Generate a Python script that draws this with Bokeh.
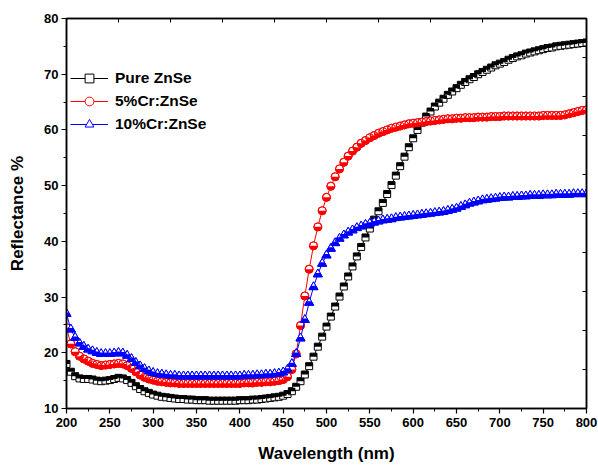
import math
from bokeh.plotting import figure
from bokeh.models import (Range1d, LinearAxis, FixedTicker, Legend, LegendItem,
                          ColumnDataSource, CustomJSTickFormatter)
from bokeh.transform import dodge
from bokeh.embed import file_html
from bokeh.resources import INLINE

# ---------------- data ----------------
wavelength = list(range(200, 801, 5))

pure_znse = [
    18.0, 16.6, 15.8, 15.4, 15.3, 15.3, 15.2, 15.0, 14.9, 15.0,
    15.1, 15.3, 15.5, 15.4, 15.1, 14.6, 14.0, 13.5, 13.1, 12.8,
    12.5, 12.3, 12.1, 12.0, 11.9, 11.8, 11.7, 11.7, 11.6, 11.6,
    11.5, 11.5, 11.5, 11.4, 11.4, 11.4, 11.4, 11.4, 11.4, 11.4,
    11.5, 11.5, 11.5, 11.6, 11.6, 11.7, 11.8, 11.9, 12.0, 12.1,
    12.3, 12.6, 13.1, 13.9, 14.9, 16.1, 17.6, 19.3, 21.1, 22.9,
    24.7, 26.5, 28.3, 30.1, 31.9, 33.7, 35.5, 37.3, 39.0, 40.7,
    42.3, 43.9, 45.4, 46.9, 48.5, 50.1, 51.8, 53.5, 55.2, 56.9,
    58.5, 60.0, 61.3, 62.4, 63.3, 64.2, 64.9, 65.6, 66.3, 66.9,
    67.5, 68.1, 68.6, 69.1, 69.5, 70.0, 70.4, 70.8, 71.2, 71.6,
    71.9, 72.2, 72.6, 72.9, 73.2, 73.4, 73.7, 73.9, 74.1, 74.3,
    74.5, 74.7, 74.8, 75.0, 75.1, 75.2, 75.3, 75.4, 75.5, 75.6,
    75.7,
]

cr5_znse = [
    24.5, 21.6, 20.2, 19.4, 18.9, 18.5, 18.1, 17.9, 17.7, 17.8,
    17.9, 18.0, 18.1, 18.0, 17.7, 17.2, 16.6, 16.0, 15.6, 15.3,
    15.1, 14.9, 14.8, 14.7, 14.6, 14.6, 14.5, 14.5, 14.5, 14.5,
    14.5, 14.5, 14.5, 14.5, 14.5, 14.5, 14.5, 14.5, 14.5, 14.5,
    14.5, 14.6, 14.6, 14.6, 14.7, 14.7, 14.8, 14.8, 14.9, 15.0,
    15.2, 15.7, 17.0, 19.8, 24.9, 30.2, 35.0, 39.2, 42.6, 45.5,
    47.9, 49.9, 51.6, 53.0, 54.2, 55.3, 56.2, 56.9, 57.6, 58.1,
    58.6, 59.0, 59.4, 59.7, 60.0, 60.3, 60.5, 60.7, 60.9, 61.1,
    61.2, 61.3, 61.4, 61.5, 61.6, 61.7, 61.8, 61.9, 62.0, 62.0,
    62.1, 62.1, 62.2, 62.2, 62.2, 62.3, 62.3, 62.3, 62.4, 62.4,
    62.4, 62.5, 62.5, 62.5, 62.5, 62.5, 62.5, 62.5, 62.5, 62.5,
    62.6, 62.6, 62.6, 62.6, 62.6, 62.7, 62.9, 63.1, 63.3, 63.5,
    63.6,
]

cr10_znse = [
    27.0, 24.2, 22.7, 21.7, 21.1, 20.6, 20.3, 20.0, 19.8, 19.8,
    19.8, 19.9, 20.0, 19.9, 19.5, 18.9, 18.2, 17.6, 17.1, 16.7,
    16.4, 16.2, 16.1, 16.0, 15.9, 15.9, 15.8, 15.8, 15.8, 15.8,
    15.8, 15.8, 15.8, 15.8, 15.8, 15.8, 15.8, 15.8, 15.8, 15.8,
    15.8, 15.9, 15.9, 15.9, 16.0, 16.0, 16.1, 16.1, 16.2, 16.3,
    16.5, 17.0, 18.0, 19.8, 22.6, 25.9, 29.0, 31.8, 34.1, 36.0,
    37.5, 38.7, 39.7, 40.5, 41.1, 41.6, 42.0, 42.4, 42.7, 43.0,
    43.2, 43.4, 43.6, 43.8, 43.9, 44.0, 44.2, 44.3, 44.4, 44.5,
    44.6, 44.7, 44.8, 44.9, 45.0, 45.1, 45.2, 45.3, 45.5, 45.7,
    45.9, 46.2, 46.5, 46.8, 47.0, 47.2, 47.4, 47.5, 47.6, 47.7,
    47.8, 47.9, 47.9, 48.0, 48.0, 48.1, 48.1, 48.2, 48.2, 48.2,
    48.3, 48.3, 48.3, 48.4, 48.4, 48.4, 48.4, 48.5, 48.5, 48.5,
    48.5,
]

series_labels = ["Pure ZnSe", "5%Cr:ZnSe", "10%Cr:ZnSe"]
x_ticks = list(range(200, 801, 50))
x_minor = list(range(225, 800, 50))
y_ticks = list(range(10, 81, 10))
y_minor = list(range(15, 80, 10))
top_ticks = list(range(200, 801, 60))
right_ticks = list(range(10, 81, 7))

# ---------------- layout / style ----------------
FONT = "Liberation Sans"
FW, FH = 520, 390
X0, X1, Y0, Y1 = 200, 800, 10, 80
PX_PER_Y = FH / (Y1 - Y0)

p = figure(frame_width=FW, frame_height=FH,
           x_range=Range1d(X0, X1), y_range=Range1d(Y0, Y1),
           output_backend="svg", toolbar_location=None,
           min_border_left=66, min_border_right=12,
           min_border_top=18, min_border_bottom=58)
p.xgrid.visible = False
p.ygrid.visible = False
p.background_fill_color = "white"
p.border_fill_color = "white"
p.outline_line_color = "black"
p.outline_line_width = 1.5

src = ColumnDataSource(dict(x=wavelength, pure=pure_znse, cr5=cr5_znse, cr10=cr10_znse))

# --- Pure ZnSe : square, top half black ---
SQ = 7
l1 = p.line("x", "pure", source=src, line_color="black", line_width=1)
m1 = p.scatter("x", "pure", source=src, marker="square", size=SQ,
               fill_color="white", line_color="black", line_width=1)
p.rect("x", dodge("pure", (SQ / 4) / PX_PER_Y), width=SQ, height=SQ / 2,
       width_units="screen", height_units="screen", source=src,
       fill_color="black", line_color=None)

# --- 5%Cr : circle, bottom half red ---
CS = 8
l2 = p.line("x", "cr5", source=src, line_color="red", line_width=1)
m2 = p.scatter("x", "cr5", source=src, marker="circle", size=CS,
               fill_color="white", line_color="red", line_width=1)
p.wedge("x", "cr5", radius=CS / 2, radius_units="screen",
        start_angle=math.pi, end_angle=2 * math.pi, source=src,
        fill_color="red", line_color=None)
p.scatter("x", "cr5", source=src, marker="circle", size=CS,
          fill_color=None, line_color="red", line_width=1)

# --- 10%Cr : triangle, bottom half blue ---
TS = 9
r = TS / 2
l3 = p.line("x", "cr10", source=src, line_color="blue", line_width=1)
m3 = p.scatter("x", "cr10", source=src, marker="triangle", size=TS,
               fill_color="white", line_color="blue", line_width=1)
p.scatter("x", "cr10", source=src, marker="triangle", size=TS,
          fill_color="blue", line_color=None)
p.scatter("x", dodge("cr10", (r * math.sqrt(3) / 3) / PX_PER_Y), source=src,
          marker="triangle", size=TS / 2, fill_color="white", line_color=None)
p.scatter("x", "cr10", source=src, marker="triangle", size=TS,
          fill_color=None, line_color="blue", line_width=1)

# ---------------- axes ----------------
def style_main(ax):
    ax.axis_line_color = "black"
    ax.axis_line_width = 1.5
    ax.major_tick_line_color = "black"
    ax.major_tick_line_width = 1.2
    ax.minor_tick_line_color = "black"
    ax.minor_tick_line_width = 1
    ax.major_tick_in = 0
    ax.major_tick_out = 5
    ax.minor_tick_in = 0
    ax.minor_tick_out = 3
    ax.major_label_text_font = FONT
    ax.major_label_text_font_style = "bold"
    ax.major_label_text_font_size = "13px"
    ax.major_label_text_color = "black"
    ax.axis_label_text_font = FONT
    ax.axis_label_text_font_style = "bold"
    ax.axis_label_text_font_size = "17px"
    ax.axis_label_text_color = "black"

p.xaxis.ticker = FixedTicker(ticks=x_ticks, minor_ticks=x_minor)
p.yaxis.ticker = FixedTicker(ticks=y_ticks, minor_ticks=y_minor)
p.xaxis.axis_label = "Wavelength (nm)"
p.yaxis.axis_label = "Reflectance %"
style_main(p.xaxis[0])
style_main(p.yaxis[0])
p.xaxis.major_label_standoff = 4
p.xaxis.axis_label_standoff = 14
p.yaxis.major_label_standoff = 3
p.yaxis.axis_label_standoff = 14

def mirror_axis(ticks):
    ax = LinearAxis(ticker=FixedTicker(ticks=ticks, minor_ticks=[]),
                    formatter=CustomJSTickFormatter(code="return ''"))
    ax.axis_line_color = "black"
    ax.axis_line_width = 1.5
    ax.major_tick_line_color = "black"
    ax.major_tick_line_width = 1
    ax.major_tick_in = 4
    ax.major_tick_out = 0
    ax.minor_tick_in = 0
    ax.minor_tick_out = 0
    ax.major_label_text_font_size = "0px"
    ax.major_label_standoff = 0
    return ax

p.add_layout(mirror_axis(top_ticks), "above")
p.add_layout(mirror_axis(right_ticks), "right")

# ---------------- legend ----------------
legend = Legend(items=[
    LegendItem(label=series_labels[0], renderers=[l1, m1]),
    LegendItem(label=series_labels[1], renderers=[l2, m2]),
    LegendItem(label=series_labels[2], renderers=[l3, m3]),
], location=(4, 273))
legend.border_line_color = None
legend.background_fill_alpha = 0
legend.label_text_font = FONT
legend.label_text_font_style = "bold"
legend.label_text_font_size = "15.5px"
legend.label_text_color = "black"
legend.glyph_width = 38
legend.glyph_height = 22
legend.label_height = 22
legend.label_standoff = 7
legend.spacing = 1
legend.padding = 0
legend.margin = 0
p.add_layout(legend)

open("out.html", "w").write(file_html(p, INLINE))
